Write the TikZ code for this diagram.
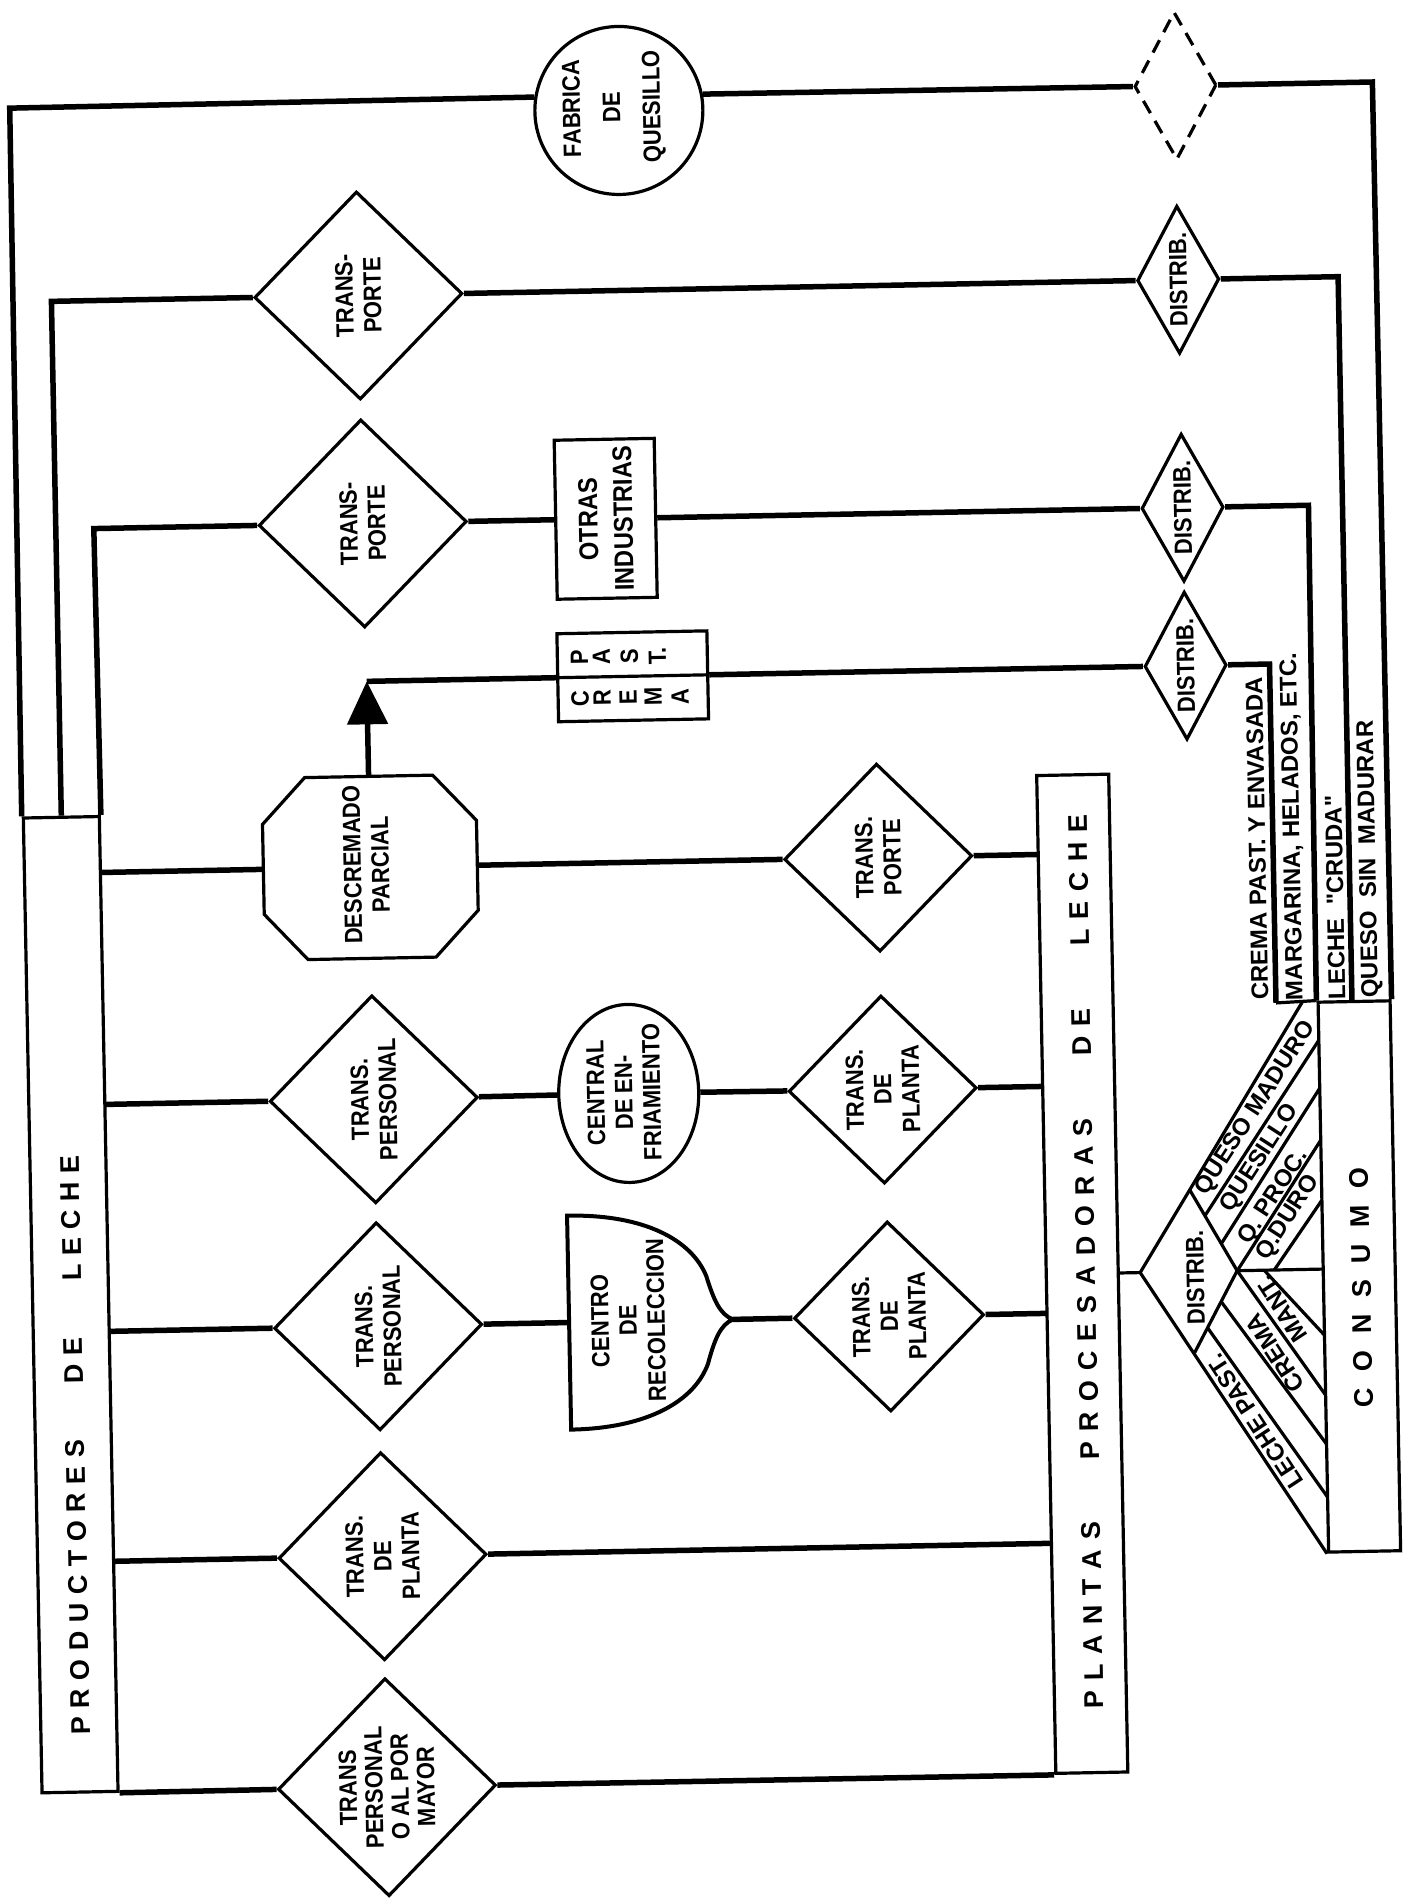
\documentclass[tikz,border=0pt]{standalone}
\usepackage{fontspec}
\setmainfont{Liberation Sans}
\newfontfamily\condfont{Liberation Sans}[FakeStretch=0.88]
\usetikzlibrary{shapes.geometric, arrows.meta}

% letter-spaced headings: \spreadtext{kern}{LETTERS~~~WORD}
\makeatletter
\def\spreadtext#1#2{\def\spread@kern{\kern#1}\spread@loop#2\@nil\kern-#1}
\def\spread@loop#1{\ifx#1\@nil\else#1\spread@kern\expandafter\spread@loop\fi}
\makeatother

\def\tilt{1.1}
\tikzstyle{flow} = [line width=5.5pt]
\tikzstyle{outl} = [draw, line width=3.2pt]
\tikzstyle{lbl} = [font=\condfont\bfseries\fontsize{25}{28}\selectfont, align=center, inner sep=0pt, rotate=90+\tilt]
\tikzstyle{strip} = [font=\bfseries\fontsize{24}{26}\selectfont, inner sep=0pt]
\tikzstyle{head} = [font=\bfseries\fontsize{27}{30}\selectfont, inner sep=0pt, rotate=90+\tilt]
\tikzstyle{dia} = [outl, diamond, minimum size=208pt, lbl]
\tikzstyle{distrib} = [outl, diamond, aspect=1.8, minimum width=148pt, minimum height=82pt, lbl]
\tikzstyle{bar} = [outl, rotate=\tilt, inner sep=0pt]

\begin{document}
\begin{tikzpicture}[x=1pt, y=-1pt]
  \path[fill=white, use as bounding box] (0,0) rectangle (1405,1903);
  \begin{scope}[rotate around={\tilt:(702,951)}]

  % long boxes
  \node[bar, minimum width=76pt, minimum height=975pt] (prod) at (64,1292.5) {};
  \node[bar, minimum width=72pt, minimum height=998pt] (plantas) at (1076,1281) {};
  \node[bar, minimum width=72pt, minimum height=550pt] (cons) at (1353,1289) {};
  \node[head] (prod-t) at (66,1433) {\spreadtext{8.5pt}{PRODUCTORES~~~DE~~~LECHE}};
  \node[head] (plan-t) at (1080,1269) {\spreadtext{10pt}{PLANTAS~~~PROCESADORAS~~~DE~~~LECHE}};
  \node[head] (cons-t) at (1355,1300) {\spreadtext{16.5pt}{CONSUMO}};

  % first column
  \node[dia] (t1) at (371,289) {TRANS-\\PORTE};
  \node[dia] (t2) at (371,517) {TRANS-\\PORTE};
  \node[dia] (t4) at (371,1093) {TRANS.\\PERSONAL};
  \node[dia] (t5) at (371,1320) {TRANS.\\PERSONAL};
  \node[dia] (t6) at (371,1550) {TRANS.\\DE\\PLANTA};
  \node[dia, font=\condfont\bfseries\fontsize{25}{26}\selectfont] (t7) at (371,1781) {TRANS\\PERSONAL\\O AL POR\\MAYOR};

  % octagon
  \coordinate (desc-w) at (265,861);
  \coordinate (desc-e) at (479,861);
  \coordinate (desc-n) at (372,770);
  \draw[outl] (265,816) -- (308,770) -- (436,770) -- (479,816) -- (479,906)
    -- (436,952) -- (308,952) -- (265,906) -- cycle;
  \node[lbl] (desc) at (368,858) {DESCREMADO\\PARCIAL};

  % middle shapes
  \node[outl, circle, minimum size=168pt] (fab) at (635,109) {};
  \node[lbl, font=\condfont\bfseries\fontsize{25}{40}\selectfont] (fab-t) at (630,106) {FABRICA\\DE\\QUESILLO};
  \node[outl, lbl, minimum width=159pt, minimum height=100pt,
        font=\condfont\bfseries\fontsize{27}{35}\selectfont] (otras) at (614,517) {OTRAS\\INDUSTRIAS};
  \node[bar, minimum width=150pt, minimum height=88pt] (crema) at (638,675) {};
  \draw[outl] (crema.west) -- (crema.east);
  \foreach \ch/\x in {P/585,A/607,S/635,T./663}
    \node[lbl] (pa\x) at (\x,655) {\ch};
  \foreach \ch/\x in {C/585,R/607,E/633,M/658,A/685}
    \node[lbl] (cr\x) at (\x,696) {\ch};
  \node[outl, ellipse, minimum width=140pt, minimum height=178pt, rotate=\tilt] (cen) at (626,1092) {};
  \node[lbl] (cen-t) at (621,1091) {CENTRAL\\DE EN-\\FRIAMIENTO};
  \coordinate (rec-w) at (562,1320);
  \coordinate (rec-e) at (726,1320);
  \draw[outl, line width=4pt] (562,1213) .. controls (640,1213) and (686,1240) .. (700,1276)
    .. controls (707,1300) and (713,1315) .. (rec-e)
    .. controls (713,1325) and (707,1340) .. (700,1364)
    .. controls (686,1400) and (640,1427) .. (562,1427) -- cycle;
  \node[lbl] (rec) at (621,1319) {CENTRO\\DE\\RECOLECCION};

  % second column
  \node[dia, minimum size=188pt] (tp5) at (880,861) {TRANS.\\PORTE};
  \node[dia, minimum size=188pt] (tp4) at (880,1093) {TRANS.\\DE\\PLANTA};
  \node[dia, minimum size=190pt] (tp3) at (882,1320) {TRANS.\\DE\\PLANTA};

  % distribution column
  \node[outl, diamond, minimum width=82pt, minimum height=148pt, rotate=\tilt,
        dash pattern=on 14pt off 9pt] (dash) at (1192,95) {};
  \node[distrib] (d1) at (1191,289) {DISTRIB.};
  \node[distrib] (d2) at (1191,517) {DISTRIB.};
  \node[distrib] (d3) at (1191,675) {DISTRIB.};

  % corners
  \coordinate (o0) at (26,95);
  \coordinate (o1) at (64,289);
  \coordinate (o2) at (102,517);
  \coordinate (c0) at (1389,95);
  \coordinate (c1) at (1351,289);
  \coordinate (b1) at (1351,1014);
  \coordinate (c2) at (1317,517);
  \coordinate (c3) at (1275,675);
  \coordinate (b3) at (1275,1014);
  \coordinate (crn) at (372,675);
  \foreach \r/\y in {3/861,4/1093,5/1320,6/1550} {
    \coordinate (p\r) at (102,\y);
    \coordinate (q\r) at (1040,\y);
  }

  % flow lines, top part
  \draw[flow] (prod.north west) -- (o0) -- (fab.171);
  \draw[flow] (fab.11) -- (dash);
  \draw[flow] (dash) -- (c0) -- (cons.north east);
  \draw[flow] (prod.north) -- (o1) -- (t1);
  \draw[flow] (t1) -- (d1);
  \draw[flow] (d1) -- (c1) -- (b1);
  \draw[flow] (prod.north east) -- (o2) -- (t2);
  \draw[flow] (t2) -- (otras);
  \draw[flow] (otras) -- (d2);
  \draw[flow] (d2) -- (c2) -- (cons.north west);
  \draw[flow, -{Triangle[length=43pt, width=40pt]}] (desc-n) -- (crn);
  \draw[flow] (crn) -- (crema);
  \draw[flow] (crema) -- (d3);
  \draw[flow] (d3) -- (c3) -- (b3);
  \draw[outl] (b3) -- (cons.north west);

  % flow lines, lower part
  \draw[flow] (p3) -- (desc-w);
  \draw[flow] (desc-e) -- (tp5);
  \draw[flow] (tp5) -- (q3);
  \draw[flow] (p4) -- (t4);
  \draw[flow] (t4) -- (cen);
  \draw[flow] (cen) -- (tp4);
  \draw[flow] (tp4) -- (q4);
  \draw[flow] (p5) -- (t5);
  \draw[flow] (t5) -- (rec-w);
  \draw[flow] (rec-e) -- (tp3);
  \draw[flow] (tp3) -- (q5);
  \draw[flow] (p6) -- (t6);
  \draw[flow] (t6) -- (q6);
  \draw[flow] (prod.south east) -- (t7);
  \draw[flow] (t7) -- (plantas.south west);

  % products along the lines
  \node[strip, rotate=90+\tilt, anchor=west] (s1) at (1259,1011) {CREMA PAST. Y ENVASADA};
  \node[strip, rotate=90+\tilt, anchor=west] (s2) at (1295,1012) {MARGARINA, HELADOS, ETC.};
  \node[strip, rotate=90+\tilt, anchor=west] (s3) at (1336,1012) {LECHE\ \ \textquotedbl CRUDA\textquotedbl};
  \node[strip, rotate=90+\tilt, anchor=west] (s4) at (1371,1011) {QUESO\ \ SIN\ \ MADURAR};

  % fan into consumo
  \coordinate (fv) at (1134,1281);
  \coordinate (fu) at (1301,1014);
  \coordinate (fp1) at (1185,1199);
  \coordinate (fa) at (1231,1281);
  \coordinate (fp2) at (1187,1362);
  \coordinate (fh) at (1317,1281);
  \draw[outl] (plantas.east) -- (fv);
  \draw[outl] (fu) -- (fv) -- (cons.south west);
  \draw[outl] (fp1) -- (fa) -- (fp2);
  \draw[outl] (fa) -- (fh);
  \foreach \sx/\sy/\ey in {1200/1225/1052, 1216/1253/1100, 1231/1281/1152, 1268/1281/1212,
                           1200/1337/1509, 1214/1311/1456, 1231/1281/1407, 1258/1281/1347}
    \draw[outl] (\sx,\sy) -- (1317,\ey);
  \node[lbl] (fl0) at (1189,1287) {DISTRIB.};
  \node[strip, rotate=56+\tilt] (fl1) at (1253,1119) {QUESO MADURO};
  \node[strip, rotate=56+\tilt] (fl2) at (1256,1169) {QUESILLO};
  \node[strip, rotate=56+\tilt] (fl3) at (1269,1208) {Q. PROC.};
  \node[strip, rotate=56+\tilt] (fl4) at (1283,1229) {Q.DURO};
  \node[strip, rotate=122+\tilt] (fl5) at (1275,1320) {MANT.};
  \node[strip, rotate=122+\tilt] (fl6) at (1267,1364) {CREMA};
  \node[strip, rotate=122+\tilt] (fl7) at (1246,1432) {LECHE PAST.};

  \end{scope}
\end{tikzpicture}
\end{document}
